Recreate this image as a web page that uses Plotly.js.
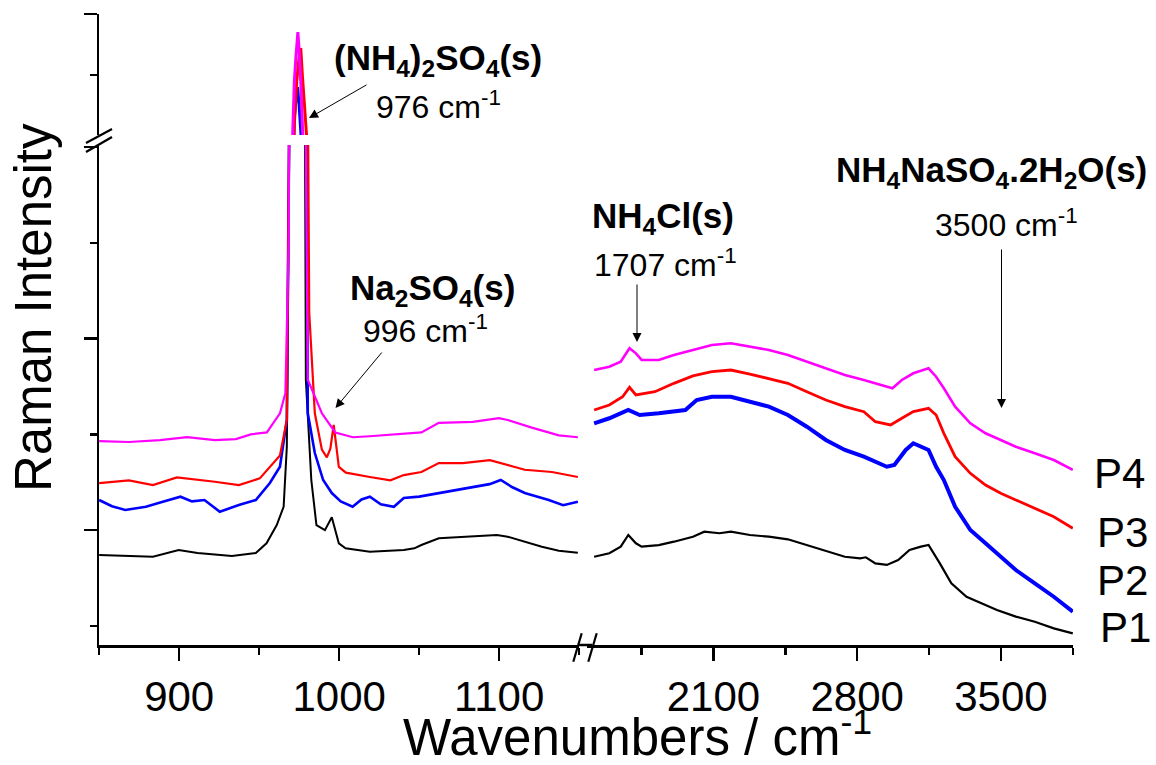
<!DOCTYPE html>
<html>
<head>
<meta charset="utf-8">
<script src="https://cdn.plot.ly/plotly-3.0.1.min.js"></script>
<style>html,body{margin:0;padding:0;background:#fff;}#chart{width:1156px;height:765px;}</style>
</head>
<body>
<div id="chart"></div>
<script>
// ---------- DATA (arbitrary intensity units) ----------
const seriesNames = ['P1', 'P2', 'P3', 'P4'];
const seriesColors = ['#000000', '#0000ff', '#ff0000', '#ff00ff'];

// Left panel (850-1150 cm-1), incl. the 976 cm-1 (NH4)2SO4 band
const p1LeftX = [850, 868.6, 883.6, 899.7, 911.5, 933, 947.9, 954.6, 961, 965.3, 967.3, 969, 971, 973, 974.5, 976, 977.5, 979.2, 982.6, 985.8, 991.1, 995.4, 999.8, 1004, 1019.2, 1040.4, 1047, 1051.4, 1062.3, 1083.6, 1098.6, 1105.3, 1126.7, 1137.3, 1149.2];
const p1LeftY = [94, 93, 92.2, 99.2, 96, 93, 96, 106.2, 125.3, 144.4, 207, 550, 1200, 1700, 1850, 1600, 1100, 276.8, 172.3, 125.3, 120, 133.4, 106.2, 101, 97.4, 99.2, 101, 104.4, 111.4, 113.1, 114.9, 113.1, 102.7, 98.5, 96.4];

const p2LeftX = [850, 858, 866.3, 879.2, 889.8, 900.8, 908, 915.8, 925.4, 937.3, 947.9, 956.7, 963, 967.3, 969, 970.5, 972, 973, 974, 975, 976.5, 978, 979.3, 980.4, 984.8, 990, 995.4, 1001, 1008.4, 1014, 1019.2, 1026, 1034.2, 1040.4, 1050, 1062.3, 1072, 1083.6, 1094, 1101, 1108, 1116, 1131, 1140, 1149.2];
const p2LeftY = [151.4, 145, 141, 144.4, 149.7, 154.9, 150, 151.4, 139.2, 146.2, 151.4, 169.2, 186.2, 235, 600, 1500, 2150, 2300, 2400, 2250, 1800, 1200, 600, 242, 200.5, 172.3, 158.7, 150, 144.4, 152, 154.9, 147, 144.4, 153.5, 155, 158.7, 162, 165, 168, 172.3, 165, 158.7, 151.4, 146, 149.7];

const p3LeftX = [850, 868.6, 883.6, 898.6, 922.3, 937.3, 950.4, 958.9, 963, 967.3, 969, 970.5, 972, 973.5, 975, 976, 977, 977.9, 978.8, 980, 981.3, 984.8, 989.2, 992.3, 994.5, 996.6, 999.8, 1004.2, 1019.2, 1032, 1040.4, 1051.4, 1062.3, 1077.3, 1094.2, 1101, 1116, 1133, 1149.2];
const p3LeftY = [169, 172, 167, 175, 170.5, 167, 174, 190, 198, 235, 600, 1500, 2100, 2450, 2650, 2721, 2500, 2030, 1400, 700, 347, 242, 204, 196, 205, 230, 186, 180, 175.5, 172, 177.5, 180.7, 190, 190, 193, 190, 183, 180.7, 175.5];

const p4LeftX = [850, 868.6, 888, 905, 922.3, 935.4, 944.8, 954.8, 963, 966.4, 968.5, 969.5, 970.3, 971, 972, 973, 974.2, 975, 976, 977.2, 978, 979, 980.4, 989.2, 997.6, 1008.6, 1019, 1040.4, 1051.4, 1062.3, 1083.6, 1099.8, 1105.4, 1120.4, 1137.3, 1149.2];
const p4LeftY = [213, 212, 214, 217, 214, 215, 220, 222, 242, 263, 420, 800, 1500, 2030, 2450, 2650, 2852, 2700, 2450, 2030, 1000, 550, 277, 242, 222, 217, 218, 221, 222, 232, 233, 237, 235, 227, 219, 217];

// Right panel (1500-3850 cm-1)
const p1RightX = [1518.7, 1592.7, 1648.2, 1685.2, 1722.2, 1750, 1833.3, 1907.3, 2000, 2055.3, 2129.3, 2184.8, 2277.3, 2369.8, 2462.3, 2554.8, 2647.3, 2739.8, 2814.3, 2842.1, 2888.4, 2944.4, 2999.4, 3054.9, 3110, 3147.4, 3202.5, 3258.5, 3332.4, 3388, 3480.5, 3572.5, 3665, 3757.5, 3850];
const p1RightY = [92.2, 95.8, 102.7, 114.9, 106.2, 102.7, 104.4, 107.9, 113.1, 118.3, 116.7, 118.3, 114.9, 113.1, 110.4, 104.4, 98.5, 92.2, 90.5, 91.6, 85.3, 83.6, 88.8, 99.2, 102.7, 104.4, 85.3, 64.4, 50.4, 45.2, 36.6, 29.6, 24.3, 17.4, 12.2];

const p2RightX = [1518.7, 1592.7, 1685.2, 1740.7, 1833.3, 1962.8, 2018.3, 2092.3, 2184.8, 2277.3, 2369.8, 2462.3, 2554.8, 2647.3, 2739.8, 2832.4, 2944.4, 2980.9, 3036.4, 3073.4, 3147.4, 3184.4, 3222, 3277, 3351, 3425, 3499, 3572.5, 3665, 3757.5, 3850];
const p2RightY = [231.5, 236.8, 245.4, 240.2, 242, 245.4, 255.9, 259.3, 259.3, 254.1, 248.9, 240.2, 228, 214.1, 203.7, 196.7, 186.2, 188, 203.7, 210.7, 203.7, 186.2, 172.3, 144.4, 120.1, 106.2, 92.2, 78.3, 64.4, 50.4, 34.8];

const p3RightX = [1518.7, 1592.7, 1657.5, 1691, 1722.2, 1814.8, 1907.3, 2000, 2092.3, 2184.8, 2277.3, 2369.8, 2462.3, 2554.8, 2647.3, 2739.8, 2832.4, 2888.4, 2962.4, 3017.4, 3073.4, 3147.4, 3184.4, 3222, 3277, 3351, 3425, 3499, 3572.5, 3665, 3757.5, 3850];
const p3RightY = [245.4, 250.7, 259.3, 269.1, 261.1, 264.5, 273.3, 281, 285.4, 287.2, 283, 278.5, 273.3, 264.5, 255.9, 248.9, 243.7, 233.2, 229.8, 236.8, 243.7, 247.2, 240.2, 221.1, 196.7, 179.3, 167.1, 158.4, 151.4, 142.8, 134, 121.9];

const p4RightX = [1518.7, 1592.7, 1648.2, 1691, 1722.2, 1750, 1833.3, 1907.3, 2000, 2092.3, 2184.8, 2277.3, 2369.8, 2462.3, 2554.8, 2647.3, 2739.8, 2832.4, 2924.9, 2971.6, 3017.4, 3073.4, 3147.4, 3184.4, 3222, 3277, 3351, 3425, 3499, 3572.5, 3665, 3757.5, 3850];
const p4RightY = [287.2, 290.6, 295.9, 309.9, 304.6, 297.7, 297.7, 302.9, 308.1, 313.3, 315.1, 311.5, 308.1, 302.9, 295.9, 289, 282, 276.8, 271.5, 268.1, 276.8, 283.8, 289, 280.2, 268.1, 248.9, 231.5, 221.1, 214.1, 207.1, 200.2, 193.2, 182.8];

const xTickLeft = [900, 1000, 1100];
const xTickRight = [2100, 2800, 3500];

// ---------- LAYOUT HELPERS ----------
const FIG_W = 1156, FIG_H = 765;
const ML = 99, MR = 83, MT = 14, MB = 120;
const PW = FIG_W - ML - MR, PH = FIG_H - MT - MB;
const px = p => (p - ML) / PW;
const py = p => (FIG_H - MB - p) / PH;
const FONT = 'Liberation Sans, Arial, Helvetica, sans-serif';

const leftX = [p1LeftX, p2LeftX, p3LeftX, p4LeftX];
const leftY = [p1LeftY, p2LeftY, p3LeftY, p4LeftY];
const rightX = [p1RightX, p2RightX, p3RightX, p4RightX];
const rightY = [p1RightY, p2RightY, p3RightY, p4RightY];
const widthsLeft = [2, 2.6, 2.2, 2.2];
const widthsRight = [2.2, 4, 2.8, 2.6];

const traces = [];
for (let i = 0; i < 4; i++) {
  const lineL = {color: seriesColors[i], width: widthsLeft[i]};
  const lineR = {color: seriesColors[i], width: widthsRight[i]};
  traces.push({x: leftX[i], y: leftY[i], xaxis: 'x', yaxis: 'y', mode: 'lines', line: lineL, name: seriesNames[i], showlegend: false, hoverinfo: 'skip'});
  traces.push({x: leftX[i], y: leftY[i], xaxis: 'x', yaxis: 'y2', mode: 'lines', line: {color: seriesColors[i], width: 3}, name: seriesNames[i], showlegend: false, hoverinfo: 'skip'});
  traces.push({x: rightX[i], y: rightY[i], xaxis: 'x2', yaxis: 'y', mode: 'lines', line: lineR, name: seriesNames[i], showlegend: false, hoverinfo: 'skip'});
}

const axCommon = {
  showline: true, linecolor: '#000', linewidth: 2.5, mirror: false,
  ticks: 'outside', ticklen: 13, tickwidth: 2.5, tickcolor: '#000',
  showgrid: false, zeroline: false,
  tickfont: {family: FONT, size: 42, color: '#000'},
};

const layout = {
  width: FIG_W, height: FIG_H,
  margin: {l: ML, r: MR, t: MT, b: MB},
  paper_bgcolor: '#fff', plot_bgcolor: '#fff',
  showlegend: false,
  font: {family: FONT, color: '#000'},
  xaxis: Object.assign({}, axCommon, {
    domain: [0, px(579.3)], range: [849.9, 1150.1], anchor: 'y',
    tickmode: 'array', tickvals: xTickLeft, ticktext: xTickLeft.map(String),
    minor: {tickmode: 'linear', tick0: 850, dtick: 50, ticks: 'outside', ticklen: 7, tickwidth: 2.5, tickcolor: '#000', showgrid: false},
  }),
  xaxis2: Object.assign({}, axCommon, {
    domain: [px(587), 1], range: [1484, 3851], anchor: 'y',
    tickmode: 'array', tickvals: xTickRight, ticktext: xTickRight.map(String),
    minor: {tickmode: 'linear', tick0: 0, dtick: 350, ticks: 'outside', ticklen: 7, tickwidth: 2.5, tickcolor: '#000', showgrid: false},
  }),
  yaxis: Object.assign({}, axCommon, {
    domain: [0, py(145)], range: [0, 522.2], anchor: 'x',
    showticklabels: false, tickmode: 'linear', tick0: 120, dtick: 200,
    minor: {tickmode: 'linear', tick0: 20, dtick: 100, ticks: 'outside', ticklen: 7, tickwidth: 2.5, tickcolor: '#000', showgrid: false},
  }),
  yaxis2: Object.assign({}, axCommon, {
    domain: [py(135), 1], range: [2008, 3000.3], anchor: 'x',
    showticklabels: false, tickmode: 'linear', tick0: 0, dtick: 1000,
    minor: {tickmode: 'linear', tick0: 0, dtick: 500, ticks: 'outside', ticklen: 7, tickwidth: 2.5, tickcolor: '#000', showgrid: false},
  }),
  shapes: [
    // y-axis break
    {type: 'line', xref: 'paper', yref: 'paper', x0: px(86), y0: py(143), x1: px(112), y1: py(129), line: {color: '#000', width: 2.2}},
    {type: 'line', xref: 'paper', yref: 'paper', x0: px(86), y0: py(152), x1: px(112), y1: py(137), line: {color: '#000', width: 2.2}},
    // x-axis break
    {type: 'line', xref: 'paper', yref: 'paper', x0: px(578), y0: py(645), x1: px(592), y1: py(645), line: {color: '#000', width: 2.5}},
    {type: 'line', xref: 'paper', yref: 'paper', x0: px(573.3), y0: py(661.7), x1: px(581.7), y1: py(633.3), line: {color: '#000', width: 2.2}},
    {type: 'line', xref: 'paper', yref: 'paper', x0: px(588.3), y0: py(661.7), x1: px(596.7), y1: py(633.3), line: {color: '#000', width: 2.2}},
  ],
  annotations: [],
};

function txt(text, x, y, size, opts) {
  return Object.assign({text, xref: 'paper', yref: 'paper', x: px(x), y: py(y), showarrow: false,
    xanchor: 'center', yanchor: 'middle', font: {family: FONT, size, color: '#000'}}, opts || {});
}
function arrow(hx, hy, tx, ty) {
  return {text: '', xref: 'paper', yref: 'paper', x: px(hx), y: py(hy), ax: tx - hx, ay: ty - hy,
    showarrow: true, arrowhead: 2, arrowsize: 1.8, arrowwidth: 1, arrowcolor: '#000'};
}

layout.annotations.push(
  txt('<b>(NH<sub>4</sub>)<sub>2</sub>SO<sub>4</sub>(s)</b>', 438, 60, 35),
  txt('976 cm<sup>-1</sup>', 438, 105, 32),
  txt('<b>Na<sub>2</sub>SO<sub>4</sub>(s)</b>', 432, 290, 35),
  txt('996 cm<sup>-1</sup>', 425, 329, 32),
  txt('<b>NH<sub>4</sub>Cl(s)</b>', 663, 218, 35),
  txt('1707 cm<sup>-1</sup>', 665, 263, 32),
  txt('<b>NH<sub>4</sub>NaSO<sub>4</sub>.2H<sub>2</sub>O(s)</b>', 991, 172, 35),
  txt('3500 cm<sup>-1</sup>', 1006, 223, 32),
  txt('P4', 1092, 473, 42, {xanchor: 'left'}),
  txt('P3', 1095, 532, 42, {xanchor: 'left'}),
  txt('P2', 1095, 580, 42, {xanchor: 'left'}),
  txt('P1', 1098, 627, 42, {xanchor: 'left'}),
  txt('Wavenumbers / cm<sup>-1</sup>', 637, 734, 51),
  txt('Raman Intensity', 33, 308, 51, {textangle: -90}),
  arrow(309, 118, 368, 84),
  arrow(335.5, 408, 383, 351),
  arrow(637, 342, 637, 283),
  arrow(1001.5, 408, 1001.5, 248)
);

Plotly.newPlot('chart', traces, layout, {staticPlot: true, displayModeBar: false});
</script>
</body>
</html>
